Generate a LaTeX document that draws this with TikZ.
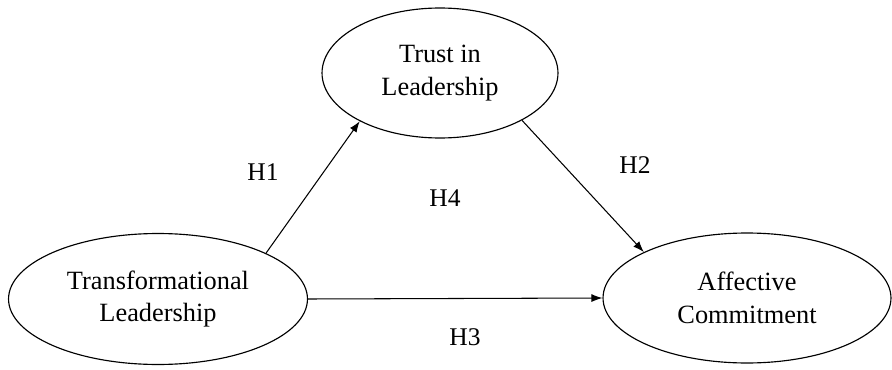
\documentclass[tikz,border=0pt]{standalone}
\usepackage{fontspec}
\setmainfont{Liberation Serif}
\usetikzlibrary{arrows.meta,shapes.geometric}

\begin{document}
\begin{tikzpicture}[x=0.02cm,y=0.02cm,
  var/.style={draw,ellipse,inner sep=0pt,line width=0.65pt,align=center,font=\fontsize{15}{18.5}\selectfont},
  hyp/.style={font=\fontsize{14.5}{17}\selectfont},
  arr/.style={-{Latex[length=2.2mm,width=1.6mm]},line width=0.6pt}
]
\useasboundingbox (0,0) rectangle (892,369);
\node[var,minimum width=4.72cm,minimum height=2.6cm] (trust) at (440,296) {Trust in\\Leadership};
\node[var,minimum width=5.98cm,minimum height=2.62cm] (trans) at (158,70) {Transformational\\Leadership};
\node[var,minimum width=5.76cm,minimum height=2.6cm] (affect) at (747,71) {Affective\\Commitment};

\draw[arr] (trans.23) -- (trust.211);
\draw[arr] (trust.-30) -- (affect.156);
\draw[arr] (trans.east) -- (affect.west);

\node[hyp] (h1) at (263,197) {H1};
\node[hyp] (h2) at (635,204) {H2};
\node[hyp] (h4) at (445,171) {H4};
\node[hyp] (h3) at (465,32) {H3};
\end{tikzpicture}
\end{document}
